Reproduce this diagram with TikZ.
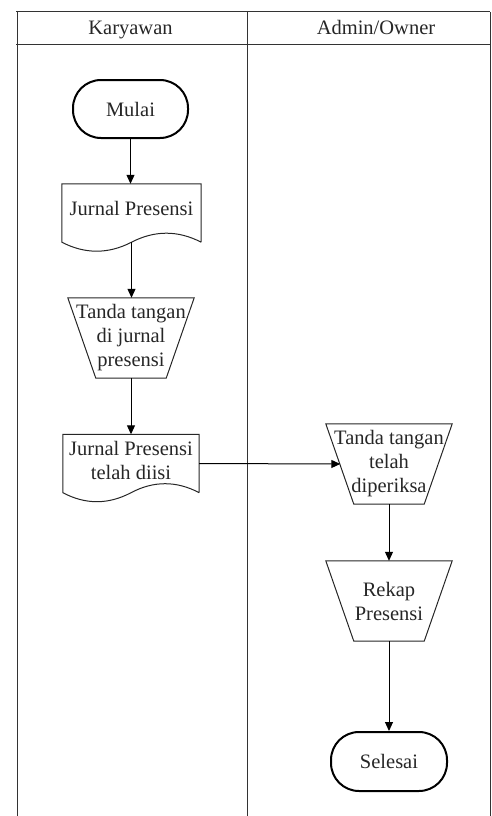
\documentclass[tikz,border=0pt]{standalone}
\usepackage{fontspec}
\setmainfont{Liberation Serif}
\usetikzlibrary{arrows.meta,calc}
\newcommand\trapout[1]{\draw[shapeline] (#1.north west) -- (#1.north east) -- ([xshift=-28pt]#1.south east) -- ([xshift=28pt]#1.south west) -- cycle;}
\newcommand\docout[1]{\draw[shapeline] (#1.south east) -- (#1.north east) -- (#1.north west) -- (#1.south west)
  .. controls ($(#1.south west)!1/6!(#1.south east)+(0,-12pt)$) and ($(#1.south west)!1/3!(#1.south east)+(0,-12pt)$) .. (#1.south)
  .. controls ($(#1.south west)!2/3!(#1.south east)+(0,12pt)$) and ($(#1.south west)!5/6!(#1.south east)+(0,12pt)$) .. (#1.south east);}
\begin{document}
\begin{tikzpicture}[x=1pt,y=-1pt,
  txt/.style={font=\fontsize{20.5}{24}\selectfont, text=black!85, align=center, inner sep=0pt},
  frameline/.style={draw=black!80, line width=1pt},
  shapeline/.style={draw=black!85, line width=1pt},
  term/.style={txt, draw=black, line width=2pt, rounded corners=28pt},
  docbox/.style={txt, minimum width=#1, minimum height=58pt},
  trapbox/.style={txt, minimum width=126pt, minimum height=80pt},
  flow/.style={draw=black, line width=1pt, -{Triangle[length=9pt,width=8pt]}}]
\useasboundingbox (0,0) rectangle (491,816);
% frame
\draw[frameline] (16,12) -- (490,12);
\draw[frameline] (16,45) -- (490,45);
\draw[frameline] (17,12) -- (17,816);
\draw[frameline] (247,12) -- (247,816);
\draw[frameline] (490,12) -- (490,816);
\node[txt, anchor=base] (hk) at (130.5,35) {Karyawan};
\node[txt, anchor=base] (ha) at (376,35) {Admin/Owner};
% nodes
\node[term, minimum width=115pt, minimum height=58pt] (mulai) at (130.5,109) {Mulai};
\node[docbox=139pt] (doc1) at (131.5,213) {};
\node[txt] (doc1t) at (131.5,208) {Jurnal Presensi};
\docout{doc1}
\node[trapbox] (trap1) at (131,338) {Tanda tangan\\di jurnal\\presensi};
\trapout{trap1}
\node[docbox=136pt] (doc2) at (131,463.5) {};
\node[txt] (doc2t) at (131,460) {Jurnal Presensi\\telah diisi};
\docout{doc2}
\node[trapbox] (trap2) at (389,464) {Tanda tangan\\telah\\diperiksa};
\trapout{trap2}
\node[trapbox] (trap3) at (389,601) {Rekap\\Presensi};
\trapout{trap3}
\node[term, minimum width=116pt, minimum height=59pt] (selesai) at (389,761.5) {Selesai};
% connectors
\draw[flow] (mulai.south) -- (mulai.south |- doc1.north);
\draw[flow] (doc1.south) -- (doc1.south |- trap1.north);
\draw[flow] (trap1.south) -- (trap1.south |- doc2.north);
\draw[flow] (doc2.east) -- ([xshift=14.5pt]trap2.west);
\draw[flow] (trap2.south) -- (trap3.north);
\draw[flow] (trap3.south) -- (selesai.north);
\end{tikzpicture}
\end{document}
